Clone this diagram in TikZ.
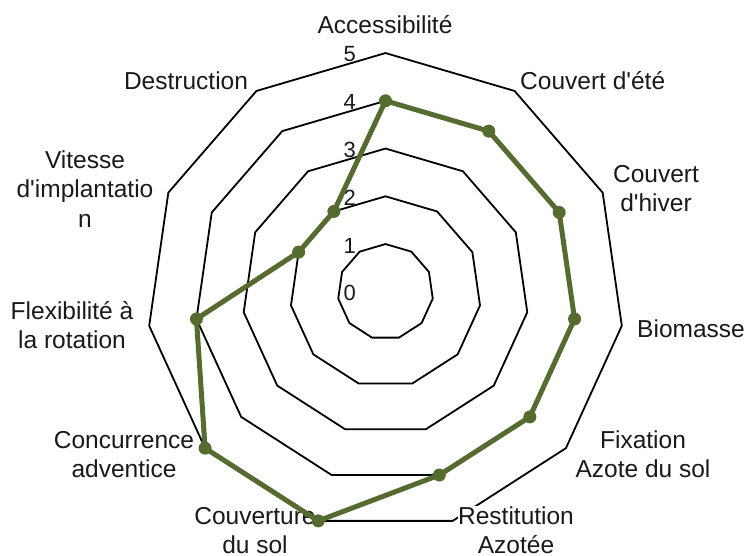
\documentclass[tikz,border=0pt]{standalone}
\usepackage{fontspec}
\setmainfont{Liberation Sans}[Ligatures=TeXOff]
\definecolor{dataolive}{RGB}{85,107,47}
\definecolor{txt}{RGB}{26,26,26}
\begin{document}
\begin{tikzpicture}[x=1pt,y=-1pt,
  ring/.style={draw=black,line width=1.8pt,line join=miter},
  axlabel/.style={font=\fontsize{24.5}{29.5}\selectfont,text=txt,align=center,inner sep=0pt,fill=white},
  numlabel/.style={font=\fontsize{22}{26}\selectfont,text=txt,anchor=east,inner sep=0pt},
  dataline/.style={draw=dataolive,line width=5pt,line join=round},
  datadot/.style={fill=dataolive}]
\useasboundingbox (0,0) rectangle (746,556);
\fill[white] (0,0) rectangle (746,556);
\begin{scope}[shift={(385.5,291.8)},y=1pt]
  \coordinate (O) at (0,0);
  \foreach \r in {1,...,5}{
    \draw[ring] (90:{\r*47.75}) \foreach \k in {1,...,10}{ -- ({90-\k*360/11}:{\r*47.75}) } -- cycle;
  }
\end{scope}
% ring numbers
\node[numlabel] (n0) at (356,293.3) {0};
\node[numlabel] (n1) at (356,245.5) {1};
\node[numlabel] (n2) at (356,197.8) {2};
\node[numlabel] (n3) at (356,150) {3};
\node[numlabel] (n4) at (356,102.3) {4};
\node[numlabel] (n5) at (356,54.5) {5};
% axis labels (base anchor = baseline of the last line)
\node[axlabel,anchor=base] (l0) at (385,34) {Accessibilité};
\node[axlabel,anchor=base west] (l1) at (520,90) {Couvert d'été};
\node[axlabel,anchor=base] (l2) at (656,211.5) {Couvert\\d'hiver};
\node[axlabel,anchor=base east] (l3) at (745,337) {Biomasse};
\node[axlabel,anchor=base] (l4) at (643,477.5) {Fixation\\Azote du sol};
\node[axlabel,anchor=base] (l5) at (516,553.5) {Restitution\\Azotée};
\node[axlabel,anchor=base] (l6) at (255,553.5) {Couverture\\du sol};
\node[axlabel,anchor=base] (l7) at (124,477.5) {Concurrence\\adventice};
\node[axlabel,anchor=base] (l8) at (72,348.5) {Flexibilité à\\la rotation};
\node[axlabel,anchor=base] (l9) at (85,227) {Vitesse\\d'implantatio\\n};
\node[axlabel,anchor=base] (l10) at (186,90) {Destruction};
% data
\begin{scope}[shift={(385.5,291.8)},y=1pt]
  \coordinate (p0) at (90:{4*47.75});
  \coordinate (p1) at ({90-1*360/11}:{4*47.75});
  \coordinate (p2) at ({90-2*360/11}:{4*47.75});
  \coordinate (p3) at ({90-3*360/11}:{4*47.75});
  \coordinate (p4) at ({90-4*360/11}:{4*47.75});
  \coordinate (p5) at ({90-5*360/11}:{4*47.75});
  \coordinate (p6) at ({90-6*360/11}:{5*47.75});
  \coordinate (p7) at ({90-7*360/11}:{5*47.75});
  \coordinate (p8) at ({90-8*360/11}:{4*47.75});
  \coordinate (p9) at ({90-9*360/11}:{2*47.75});
  \coordinate (p10) at ({90-10*360/11}:{2*47.75});
\end{scope}
\draw[dataline] (p0) -- (p1) -- (p2) -- (p3) -- (p4) -- (p5) -- (p6) -- (p7) -- (p8) -- (p9) -- (p10) -- cycle;
\foreach \i in {0,...,10}{ \fill[datadot] (p\i) circle (6.5pt); }
\end{tikzpicture}
\end{document}
